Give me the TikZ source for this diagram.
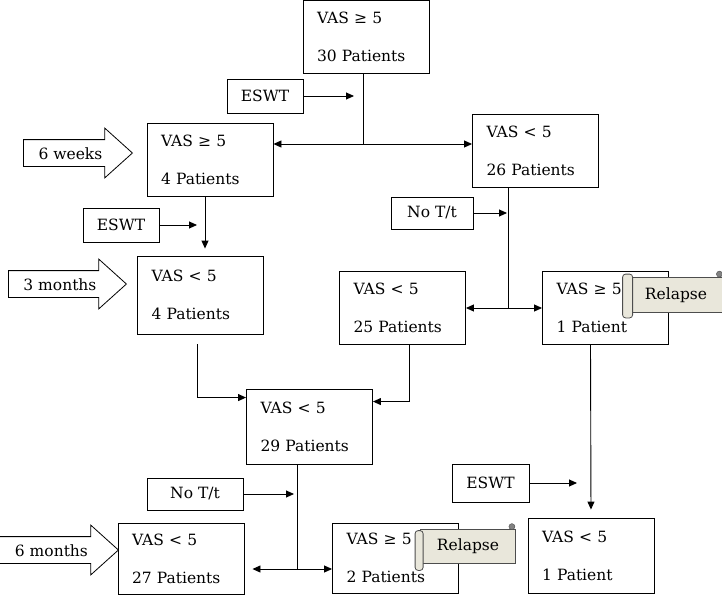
\documentclass[tikz,border=0pt]{standalone}
\usepackage{fontspec}
\setmainfont{DejaVu Serif}
\usetikzlibrary{positioning,arrows.meta,shapes.arrows}
\definecolor{scrollfill}{HTML}{E9E7DB}
\definecolor{scrolldraw}{HTML}{4D4D4D}

\begin{document}
\begin{tikzpicture}[
        x=1pt, y=-1pt,
        box/.style={
            rectangle,
            draw,
            line width=0.9pt,
            minimum width=126pt,
            minimum height=73pt,
            text width=98pt,
            inner xsep=14pt,
            align=left,
            font=\fontsize{15.5}{38}\selectfont
        },
        tag/.style={
            rectangle,
            draw,
            line width=0.9pt,
            minimum height=34pt,
            align=center,
            font=\fontsize{15.5}{21}\selectfont
        },
        period/.style={
            single arrow,
            draw,
            line width=0.8pt,
            single arrow head extend=11.5pt,
            single arrow tip angle=84,
            text height=12pt,
            text depth=0pt,
            inner ysep=7pt,
            inner xsep=4pt,
            anchor=tip,
            font=\fontsize{15.5}{21}\selectfont
        },
        scroll/.style={
            rectangle,
            draw=scrolldraw,
            fill=scrollfill,
            line width=0.8pt,
            minimum width=92pt,
            minimum height=35pt,
            font=\fontsize{15.5}{21}\selectfont
        },
        curl/.style={
            draw=scrolldraw,
            fill=scrollfill,
            line width=0.8pt,
            rounded corners=3pt
        },
        arrow/.style={
            -{Triangle[length=8pt,width=7pt]},
            line width=0.9pt
        },
        both/.style={
            {Triangle[length=8pt,width=7pt]}-{Triangle[length=8pt,width=7pt]},
            line width=0.9pt
        }
    ]
    \useasboundingbox (0,0) rectangle (722,597);

    % Start
    \node[box] (top) at (366,37) {VAS ≥ 5\\30 Patients};
    \node[tag, minimum width=76pt] (eswtA) at (265,96) {ESWT};

    % 6 weeks
    \node[period, minimum height=109pt] (wk6) at (133,153) {6 weeks};
    \node[box] (w6) at (210,159.5) {VAS ≥ 5\\4 Patients};
    \node[box] (l26) at (535.5,150.5) {VAS < 5\\26 Patients};

    % 3 months
    \node[tag, minimum width=76pt] (eswtB) at (121,225) {ESWT};
    \node[tag, minimum width=82pt, minimum height=32pt] (notA) at (432,213) {No T/t};
    \node[period, minimum height=118pt] (mo3) at (127,284) {3 months};
    \node[box, minimum height=78pt] (m3) at (200.5,295) {VAS < 5\\4 Patients};
    \node[box] (p25) at (402.5,308) {VAS < 5\\25 Patients};
    \node[box] (r1) at (605.5,308) {VAS ≥ 5\\1 Patient};
    \node[scroll] (relA) at (676,295) {Relapse};

    % 6 months
    \node[box, minimum height=75pt] (p29) at (309.5,426.5) {VAS < 5\\29 Patients};
    \node[tag, minimum width=96pt, minimum height=32pt] (notB) at (195,494) {No T/t};
    \node[tag, minimum width=77pt, minimum height=38pt] (eswtC) at (490.5,483) {ESWT};
    \node[period, minimum height=119pt] (mo6) at (119,550) {6 months};
    \node[box, minimum height=71pt] (m6) at (181,558.5) {VAS < 5\\27 Patients};
    \node[box, minimum height=70pt] (p2) at (395.5,558) {VAS ≥ 5\\2 Patients};
    \node[scroll, minimum width=95pt, minimum height=34pt] (relB) at (468,546) {Relapse};
    \node[box, minimum height=75pt] (e1) at (591,555.5) {VAS < 5\\1 Patient};

    % Scroll ends
    \draw[curl] ([xshift=-7pt,yshift=3pt]relA.north west) rectangle ([xshift=3pt,yshift=-5pt]relA.south west);
    \draw[scrolldraw, fill=scrolldraw!70] ([xshift=-3pt,yshift=3pt]relA.north east) circle (3pt);
    \draw[curl] ([xshift=-5pt,yshift=-2pt]relB.north west) rectangle ([xshift=3pt,yshift=-7pt]relB.south west);
    \draw[scrolldraw, fill=scrolldraw!70] ([xshift=-4pt,yshift=2pt]relB.north east) circle (3pt);

    % Split points and arrow ends
    \coordinate (splitA) at (363,144);
    \coordinate (splitB) at (508,308);
    \coordinate (splitC) at (297,569);
    \coordinate (tA) at (354,96);
    \coordinate (tB) at (197,225);
    \coordinate (tC) at (507,213);
    \coordinate (tD) at (577,483);
    \coordinate (tE) at (294,494);

    % Connections
    \draw[line width=0.9pt] (top.south -| splitA) -- (splitA);
    \draw[both] (w6.east |- splitA) -- (l26.west |- splitA);
    \draw[arrow] (eswtA.east) -- (tA);

    \draw[arrow, shorten >=7pt] ([xshift=-5pt]w6.south) -- ([xshift=-5pt]w6.south |- m3.north);
    \draw[arrow] (eswtB.east) -- (tB);

    \draw[line width=0.9pt] (l26.south -| splitB) -- (splitB);
    \draw[both] (p25.east) -- (r1.west);
    \draw[arrow] (notA.east) -- (tC);

    \draw[arrow] ([xshift=-3.5pt,yshift=-10pt]m3.south) |- ([yshift=-9pt]p29.north west);
    \draw[arrow] ([xshift=6.5pt]p25.south) |- ([yshift=-13pt]p29.north east);

    \draw[arrow, shorten >=8pt] ([xshift=-15pt]r1.south) -- (e1.north);
    \draw[arrow] (eswtC.east) -- (tD);

    \draw[line width=0.9pt] (p29.south -| splitC) -- (splitC);
    \draw[both, shorten <=8pt] (m6.east |- splitC) -- (p2.west |- splitC);
    \draw[arrow] (notB.east) -- (tE);

\end{tikzpicture}
\end{document}
